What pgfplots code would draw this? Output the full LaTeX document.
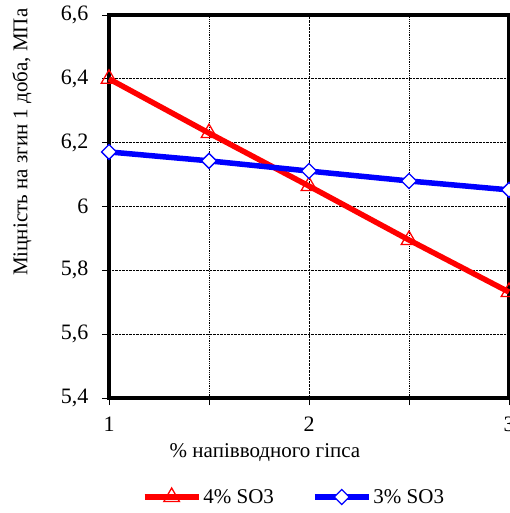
\documentclass[border=0pt]{standalone}
\usepackage{pgfplots}
\pgfplotsset{compat=1.18}
\usepackage{fontspec}
\setmainfont{Liberation Serif}
\newcommand{\tf}{\fontsize{21}{24}\selectfont}
\newcommand{\tk}{\fontsize{22}{26}\selectfont}
\begin{document}
\begin{tikzpicture}[x=1pt,y=1pt]
\begin{axis}[
  at={(109pt,115pt)}, anchor=south west,
  scale only axis, width=400pt, height=383pt,
  xmin=1, xmax=3, ymin=5.4, ymax=6.6,
  xtick={1,2,3}, minor xtick={1.5,2.5},
  ytick={5.4,5.6,5.8,6,6.2,6.4,6.6},
  xmajorgrids, xminorgrids, ymajorgrids,
  grid style={black, densely dotted, line width=0.8pt},
  minor grid style={black, densely dotted, line width=0.8pt},
  tick align=outside, tick pos=left,
  major tick length=7pt, minor tick length=7pt,
  tick style={black, line width=0.8pt},
  axis line style={line width=4pt},
  /pgf/number format/assume math mode=true,
  /pgf/number format/use comma,
  tick label style={font=\tk},
  yticklabel style={xshift=-10pt},
  xticklabel style={yshift=-8pt},
  xlabel={\% напівводного гіпса},
  ylabel={Міцність на згин 1 доба, МПа},
  label style={font=\tf},
  xlabel style={at={(axis description cs:0.39,-0.142)}, anchor=center},
  ylabel style={at={(axis description cs:-0.2175,0.668)}, anchor=center, rotate=0},
  legend style={at={(axis description cs:0.4625,-0.2585)}, anchor=center, draw=none, fill=none,
    font=\tf, legend columns=2,
    /tikz/every even column/.append style={column sep=36pt}},
  legend image code/.code={\draw[mark repeat=2,mark phase=2,#1] plot coordinates {(0pt,0pt) (27pt,0pt) (54pt,0pt)};},
  clip=false,
]
\addplot[red, line width=5.5pt, mark=triangle, mark size=9pt,
  mark options={solid, fill=white, line width=1.3pt, draw=red}]
  coordinates {(1,6.40) (1.5,6.23) (2,6.064) (2.5,5.895) (3,5.732)};
\addlegendentry{4\% SO3}
\addplot[blue, line width=5.5pt, mark=square*, mark size=5.3pt,
  mark options={solid, rotate=45, fill=white, line width=1.3pt, draw=blue}]
  coordinates {(1,6.171) (1.5,6.143) (2,6.111) (2.5,6.08) (3,6.052)};
\addlegendentry{3\% SO3}
\end{axis}
\pgfresetboundingbox
\path (0,0) rectangle (510,513);
\end{tikzpicture}
\end{document}
